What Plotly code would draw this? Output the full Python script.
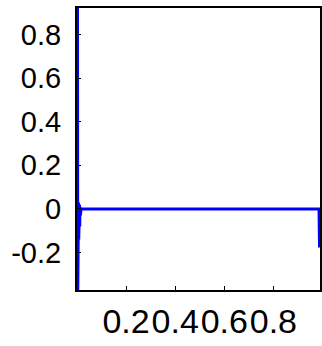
import plotly.graph_objects as go

# Signal samples
x_vals = [0.000, 0.002, 0.003, 0.004, 0.005, 0.006, 0.007, 0.008, 0.009, 0.010,
          0.011, 0.012, 0.014, 0.016, 0.100, 0.300, 0.500, 0.700, 0.900, 0.986,
          0.988, 0.990]
y_vals = [0.00, 1.00, -0.40, 0.03, -0.15, 0.03, -0.14, 0.02, -0.12, 0.02,
          -0.08, 0.01, -0.03, 0.00, 0.00, 0.00, 0.00, 0.00, 0.00, 0.00,
          -0.17, -0.17]

x_ticks = [0.2, 0.4, 0.6, 0.8]
x_tick_labels = ["0.2", "0.4", "0.6", "0.8"]
y_ticks = [-0.2, 0, 0.2, 0.4, 0.6, 0.8]
y_tick_labels = ["-0.2", "0", "0.2", "0.4", "0.6", "0.8"]

fig = go.Figure()
fig.add_trace(go.Scatter(x=x_vals, y=y_vals, mode="lines",
                         line=dict(color="#0000ff", width=3),
                         showlegend=False))

axis_common = dict(showgrid=False, zeroline=False, showline=True, mirror=True,
                   linecolor="black", linewidth=2, ticks="inside", ticklen=4,
                   tickcolor="black", tickwidth=1)

fig.update_xaxes(range=[0, 0.99], tickvals=x_ticks, ticktext=x_tick_labels,
                 tickangle=0, tickfont=dict(family="Liberation Sans, Arial", size=34, color="black"),
                 ticklabelstandoff=0, **axis_common)
fig.update_yaxes(range=[-0.372, 0.922], tickvals=y_ticks, ticktext=y_tick_labels,
                 tickfont=dict(family="Liberation Sans, Arial", size=29, color="black"),
                 ticklabelstandoff=8, **axis_common)

fig.update_layout(width=322, height=346, margin=dict(l=77, r=0, t=8, b=56),
                  plot_bgcolor="white", paper_bgcolor="white")

fig.write_html("out.html", config={"displayModeBar": False, "staticPlot": True},
               post_script="document.body.style.margin='0';document.body.style.overflow='hidden';")
